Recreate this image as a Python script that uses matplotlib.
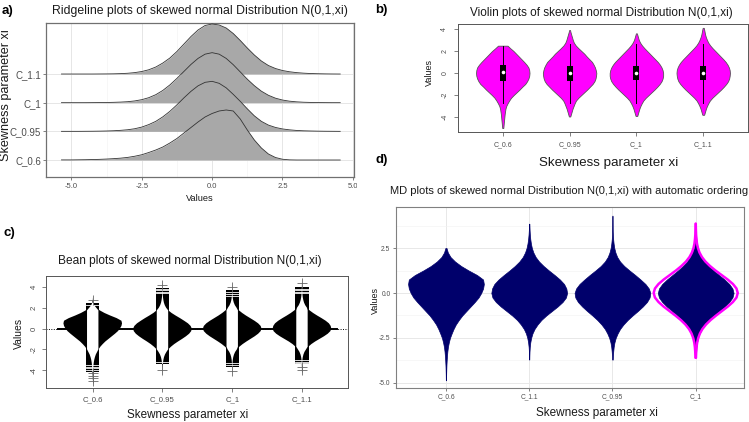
import numpy as np
import matplotlib
matplotlib.use("Agg")
import matplotlib.pyplot as plt
from matplotlib.patches import Rectangle
from matplotlib.transforms import Bbox, TransformedBbox

plt.rcParams['font.family'] = ['Liberation Sans', 'DejaVu Sans']

W, H = 749, 422
fig = plt.figure(figsize=(W / 100, H / 100), dpi=100)


def rect(l, t, r, b):
    return [l / W, 1 - b / H, (r - l) / W, (b - t) / H]


def ftext(x, y, s, **kw):
    fig.text(x / W, 1 - y / H, s, **kw)


# ---------------- data ----------------
GRID = [-5.0, -4.75, -4.5, -4.25, -4.0, -3.75, -3.5, -3.25, -3.0, -2.75,
        -2.5, -2.25, -2.0, -1.75, -1.5, -1.25, -1.0, -0.75, -0.5, -0.25,
        0.0, 0.25, 0.5, 0.75, 1.0, 1.25, 1.5, 1.75, 2.0, 2.25,
        2.5, 2.75, 3.0, 3.25, 3.5, 3.75, 4.0, 4.25, 4.5]

# relative densities (peak = 1) read from the ridgeline / MD / bean panels
DENS_C06 = [0.002, 0.004, 0.006, 0.009, 0.013, 0.019, 0.027, 0.037, 0.052, 0.075,
            0.105, 0.15, 0.20, 0.26, 0.34, 0.43, 0.54, 0.65, 0.76, 0.86,
            0.93, 0.98, 1.0, 0.98, 0.82, 0.60, 0.40, 0.24, 0.12, 0.05,
            0.015, 0.003, 0.0, 0.0, 0.0, 0.0, 0.0, 0.0, 0.0]
DENS_C095 = [0.0, 0.0, 0.001, 0.002, 0.004, 0.007, 0.012, 0.02, 0.032, 0.052,
             0.085, 0.135, 0.20, 0.29, 0.40, 0.53, 0.67, 0.80, 0.91, 0.98,
             1.0, 0.96, 0.87, 0.74, 0.60, 0.45, 0.31, 0.20, 0.125, 0.078,
             0.048, 0.03, 0.018, 0.011, 0.007, 0.004, 0.002, 0.001, 0.0]
DENS_C1 = [0.0, 0.0, 0.0, 0.001, 0.002, 0.004, 0.007, 0.012, 0.02, 0.035,
           0.06, 0.10, 0.16, 0.245, 0.355, 0.485, 0.625, 0.765, 0.885, 0.97,
           1.0, 0.97, 0.885, 0.76, 0.615, 0.47, 0.34, 0.23, 0.148, 0.09,
           0.053, 0.03, 0.017, 0.009, 0.005, 0.002, 0.001, 0.0, 0.0]
DENS_C11 = [0.0, 0.0, 0.0, 0.0, 0.001, 0.002, 0.004, 0.008, 0.015, 0.028,
            0.05, 0.085, 0.14, 0.22, 0.32, 0.45, 0.60, 0.75, 0.88, 0.97,
            1.0, 0.98, 0.92, 0.81, 0.67, 0.52, 0.38, 0.26, 0.17, 0.11,
            0.07, 0.045, 0.028, 0.017, 0.01, 0.006, 0.003, 0.001, 0.0]

# panel b (vioplot uses a wider bandwidth)
VIO_C06 = [0.02, 0.03, 0.04, 0.05, 0.06, 0.07, 0.085, 0.10, 0.13, 0.18,
           0.24, 0.31, 0.41, 0.52, 0.63, 0.73, 0.84, 0.91, 0.96, 0.99,
           1.0, 0.99, 0.96, 0.89, 0.80, 0.70, 0.60, 0.50, 0.40, 0.28,
           0.17, 0.0, 0.0, 0.0, 0.0, 0.0, 0.0, 0.0, 0.0]
VIO_C095 = [0.0, 0.0, 0.0, 0.0, 0.02, 0.05, 0.08, 0.11, 0.15, 0.19,
            0.24, 0.33, 0.44, 0.55, 0.66, 0.76, 0.86, 0.93, 0.97, 0.99,
            1.0, 0.98, 0.95, 0.90, 0.84, 0.74, 0.64, 0.55, 0.44, 0.33,
            0.23, 0.16, 0.12, 0.09, 0.06, 0.03, 0.01, 0.0, 0.0]
VIO_C1 = [0.0, 0.0, 0.0, 0.0, 0.02, 0.05, 0.08, 0.11, 0.15, 0.20,
          0.26, 0.35, 0.46, 0.57, 0.68, 0.78, 0.87, 0.94, 0.98, 1.0,
          1.0, 0.98, 0.94, 0.88, 0.80, 0.70, 0.60, 0.50, 0.40, 0.30,
          0.21, 0.14, 0.09, 0.06, 0.03, 0.0, 0.0, 0.0, 0.0]
VIO_C11 = [0.0, 0.0, 0.0, 0.0, 0.0, 0.04, 0.07, 0.10, 0.14, 0.19,
           0.25, 0.34, 0.45, 0.56, 0.67, 0.77, 0.86, 0.93, 0.97, 0.99,
           1.0, 0.99, 0.96, 0.91, 0.84, 0.75, 0.65, 0.55, 0.45, 0.35,
           0.26, 0.19, 0.14, 0.10, 0.07, 0.05, 0.03, 0.01, 0.0]

# ---- panel a: ridgeline ----
RIDGE_LABELS = ["C_0.6", "C_0.95", "C_1", "C_1.1"]
RIDGE_DENS = [DENS_C06, DENS_C095, DENS_C1, DENS_C11]
RIDGE_RANGE = [-5.35, 4.55]

# ---- panel b: violin ----
VIO_LABELS = ["C_0.6", "C_0.95", "C_1", "C_1.1"]
VIO_DENS = [VIO_C06, VIO_C095, VIO_C1, VIO_C11]
VIO_MIN = [-5.0, -3.95, -3.9, -3.8]
VIO_MAX = [2.48, 3.9, 3.6, 4.1]
VIO_Q1 = [-0.72, -0.7, -0.68, -0.68]
VIO_Q3 = [0.72, 0.62, 0.65, 0.62]
VIO_MED = [0.1, 0.0, 0.0, -0.02]
VIO_WLO = [-2.75, -2.75, -2.75, -2.75]
VIO_WHI = [2.45, 2.65, 2.65, 2.65]

# ---- panel c: bean ----
BEAN_LABELS = ["C_0.6", "C_0.95", "C_1", "C_1.1"]
BEAN_DENS = [DENS_C06, DENS_C095, DENS_C1, DENS_C11]
BEAN_LO = [-4.2, -3.4, -3.7, -3.4]
BEAN_HI = [2.5, 3.95, 3.7, 4.0]
BEAN_GAPS = [[2.3, -3.55, -3.7, -3.85, -4.0],
             [3.4, 3.55, 3.7, 3.85, -3.2],
             [3.1, 3.3, 3.5, -3.3, -3.5],
             [3.4, 3.55, 3.7, 3.85, -3.05, -3.2, -3.3]]
BEAN_OUT = [[2.75, -4.3, -4.55, -4.8, -5.05],
            [4.2, -3.95],
            [4.0, -4.1],
            [4.4, -3.75, -3.95]]

# ---- panel d: MD plot ----
MD_LABELS = ["C_0.6", "C_1.1", "C_0.95", "C_1"]
MD_DENS = [DENS_C06, DENS_C11, DENS_C095, DENS_C1]
MD_MIN = [-4.85, -3.7, -3.7, -3.4]
MD_MAX = [2.5, 3.85, 4.3, 3.7]
MD_REF_MIN, MD_REF_MAX = -3.6, 3.85

G = np.array(GRID)


def profile(dens, lo, hi):
    d = np.array(dens)
    inside = (G > lo) & (G < hi)
    ys = np.concatenate([[lo], G[inside], [hi]])
    ws = np.concatenate([[np.interp(lo, G, d)], d[inside], [np.interp(hi, G, d)]])
    return ys, ws


TXT = '#1a1a1a'
TICK = '#4d4d4d'

# ================= panel a =================
axa = fig.add_axes(rect(46, 23, 354, 177))
scale = 1.745
for k, i in enumerate([3, 2, 1, 0]):
    xs, d = profile(RIDGE_DENS[i], RIDGE_RANGE[0], RIDGE_RANGE[1])
    base = i + 1
    axa.fill_between(xs, base, base + d * scale, color='#a8a8a8', lw=0, zorder=3 + 2 * k)
    axa.plot(xs, base + d * scale, color='#333333', lw=0.6, zorder=4 + 2 * k)
axa.set_xlim(-5.9, 5.04)
axa.set_ylim(0.407, 5.78)
axa.set_xticks([-5, -2.5, 0, 2.5, 5])
axa.set_xticklabels(["-5.0", "-2.5", "0.0", "2.5", "5.0"])
axa.set_xticks([-3.75, -1.25, 1.25, 3.75], minor=True)
axa.set_yticks([1, 2, 3, 4])
axa.set_yticklabels(RIDGE_LABELS)
axa.grid(True, which='major', color='#e6e6e6', lw=0.7, zorder=0)
axa.grid(True, which='minor', axis='x', color='#f2f2f2', lw=0.4, zorder=0)
axa.set_axisbelow(True)
axa.tick_params(axis='x', labelsize=5.5, colors=TICK, length=2, width=0.5, pad=2)
axa.tick_params(axis='y', labelsize=7, colors=TICK, length=2, width=0.5, pad=1.5)
axa.tick_params(which='minor', length=0)
for s in axa.spines.values():
    s.set_color('#707070')
    s.set_linewidth(0.9)
clip_a = TransformedBbox(Bbox([[0, 0], [357 / W, 1]]), fig.transFigure)
for lbl in axa.get_xticklabels():
    lbl.set_clip_box(clip_a)
    lbl.set_clip_on(True)

ftext(8, 11, "a)", fontsize=9.5, fontweight='bold', ha='center', va='center', color='black')
ftext(200, 11, "Ridgeline plots of skewed normal Distribution N(0,1,xi)", fontsize=8.8,
      ha='center', va='center', color=TXT)
ftext(6, 95, "Skewness parameter xi", fontsize=9.1, rotation=90, ha='center', va='center', color=TXT)
ftext(200, 199, "Values", fontsize=6.7, ha='center', va='center', color=TXT)

# ================= panel b =================
axb = fig.add_axes(rect(458, 24, 748, 132))
for i in range(4):
    c = i + 1
    ys, w = profile(VIO_DENS[i], VIO_MIN[i], VIO_MAX[i])
    axb.fill_betweenx(ys, c - w * 0.4, c + w * 0.4, facecolor='#ff00ff', edgecolor='#555555',
                      lw=0.6, zorder=2)
    axb.plot([c, c], [VIO_WLO[i], VIO_WHI[i]], color='black', lw=0.7, zorder=3)
    axb.add_patch(Rectangle((c - 0.045, VIO_Q1[i]), 0.09, VIO_Q3[i] - VIO_Q1[i],
                            facecolor='black', edgecolor='none', zorder=4))
    axb.plot([c], [VIO_MED[i]], 'o', color='white', ms=2.6, mec='none', zorder=5)
axb.set_xlim(0.33, 4.67)
axb.set_ylim(-5.36, 4.45)
axb.set_xticks([1, 2, 3, 4])
axb.set_xticklabels(VIO_LABELS)
axb.set_yticks([-4, -2, 0, 2, 4])
axb.set_yticklabels(["-4", "-2", "0", "2", "4"], rotation=90, va='center')
axb.tick_params(axis='both', labelsize=5.0, colors=TICK, length=3, width=0.5, pad=4)
for s in axb.spines.values():
    s.set_color('#555555')
    s.set_linewidth(0.7)

ftext(381, 10.5, "b)", fontsize=9.5, fontweight='bold', ha='center', va='center', color='black')
ftext(601, 13, "Violin plots of skewed normal Distribution N(0,1,xi)", fontsize=8.5,
      ha='center', va='center', color=TXT)
ftext(429, 73, "Values", fontsize=6.5, rotation=90, ha='center', va='center', color=TXT)
ftext(609, 163, "Skewness parameter xi", fontsize=9.6, ha='center', va='center', color=TXT)
ftext(382, 159.5, "d)", fontsize=9.5, fontweight='bold', ha='center', va='center', color='black')

# ================= panel c =================
axc = fig.add_axes(rect(46, 276, 348, 388))
xl = (0.33, 4.66)
axc.plot(xl, [0, 0], color='black', lw=0.7, ls=(0, (1, 1.5)), zorder=1)
axc.plot([0.5, 4.5], [0, 0], color='black', lw=1.4, zorder=2)
L = 0.095
for i in range(4):
    c = i + 1
    ys, w = profile(BEAN_DENS[i], -5.0, 4.5)
    axc.fill_betweenx(ys, c - w * 0.42, c + w * 0.42, facecolor='black', edgecolor='none', zorder=3)
    axc.add_patch(Rectangle((c - L, BEAN_LO[i]), 2 * L, BEAN_HI[i] - BEAN_LO[i],
                            facecolor='black', edgecolor='none', zorder=4))
    ys2, w2 = profile(BEAN_DENS[i], BEAN_LO[i], BEAN_HI[i])
    ww = np.minimum(w2 * 0.42, L * 0.86)
    axc.fill_betweenx(ys2, c - ww, c + ww, facecolor='white', edgecolor='none', zorder=5)
    for gy in BEAN_GAPS[i]:
        axc.plot([c - L, c + L], [gy, gy], color='white', lw=0.6, zorder=6)
    axc.plot([c] * len(BEAN_OUT[i]), BEAN_OUT[i], '+', color='#666666', ms=7, mew=0.6, zorder=6)
axc.set_xlim(*xl)
axc.set_ylim(-5.73, 5.06)
axc.set_xticks([1, 2, 3, 4])
axc.set_xticklabels(BEAN_LABELS)
axc.set_yticks([-4, -2, 0, 2, 4])
axc.set_yticklabels(["-4", "-2", "0", "2", "4"], rotation=90, va='center')
axc.tick_params(axis='both', labelsize=5.6, colors=TICK, length=3, width=0.5, pad=3)
for s in axc.spines.values():
    s.set_color('#555555')
    s.set_linewidth(0.7)

ftext(9, 233, "c)", fontsize=9.5, fontweight='bold', ha='center', va='center', color='black')
ftext(190, 261, "Bean plots of skewed normal Distribution N(0,1,xi)", fontsize=8.6,
      ha='center', va='center', color=TXT)
ftext(19, 333, "Values", fontsize=7.5, rotation=90, ha='center', va='center', color=TXT)
ftext(188, 415, "Skewness parameter xi", fontsize=8.4, ha='center', va='center', color=TXT)

# ================= panel d =================
axd = fig.add_axes(rect(396, 207, 744, 388))
for i in range(4):
    c = i + 1
    ys, w = profile(MD_DENS[i], MD_MIN[i], MD_MAX[i])
    axd.fill_betweenx(ys, c - w * 0.455, c + w * 0.455, facecolor='#00006b', edgecolor='#00006b',
                      lw=0.5, zorder=3)
ys, w = profile(DENS_C1, MD_REF_MIN, MD_REF_MAX)
axd.plot(4 - w * 0.505, ys, color='#ff00ff', lw=1.8, zorder=4, solid_capstyle='round')
axd.plot(4 + w * 0.505, ys, color='#ff00ff', lw=1.8, zorder=4, solid_capstyle='round')
axd.set_xlim(0.4, 4.58)
axd.set_ylim(-5.28, 4.78)
axd.set_xticks([1, 2, 3, 4])
axd.set_xticklabels(MD_LABELS)
axd.set_yticks([-5, -2.5, 0, 2.5])
axd.set_yticklabels(["-5.0", "-2.5", "0.0", "2.5"])
axd.set_yticks([-3.75, -1.25, 1.25, 3.75], minor=True)
axd.grid(True, which='major', color='#e8e8e8', lw=0.7, zorder=0)
axd.grid(True, which='minor', axis='y', color='#f2f2f2', lw=0.4, zorder=0)
axd.set_axisbelow(True)
axd.tick_params(axis='both', labelsize=4.8, colors=TICK, length=2, width=0.5, pad=2)
axd.tick_params(which='minor', length=0)
for s in axd.spines.values():
    s.set_color('#808080')
    s.set_linewidth(0.8)

ftext(569, 191, "MD plots of skewed normal Distribution N(0,1,xi) with automatic ordering",
      fontsize=8.0, ha='center', va='center', color=TXT)
ftext(375, 300, "Values", fontsize=6.5, rotation=90, ha='center', va='center', color=TXT)
ftext(597, 413, "Skewness parameter xi", fontsize=8.5, ha='center', va='center', color=TXT)

fig.savefig("out.png", dpi=100)
